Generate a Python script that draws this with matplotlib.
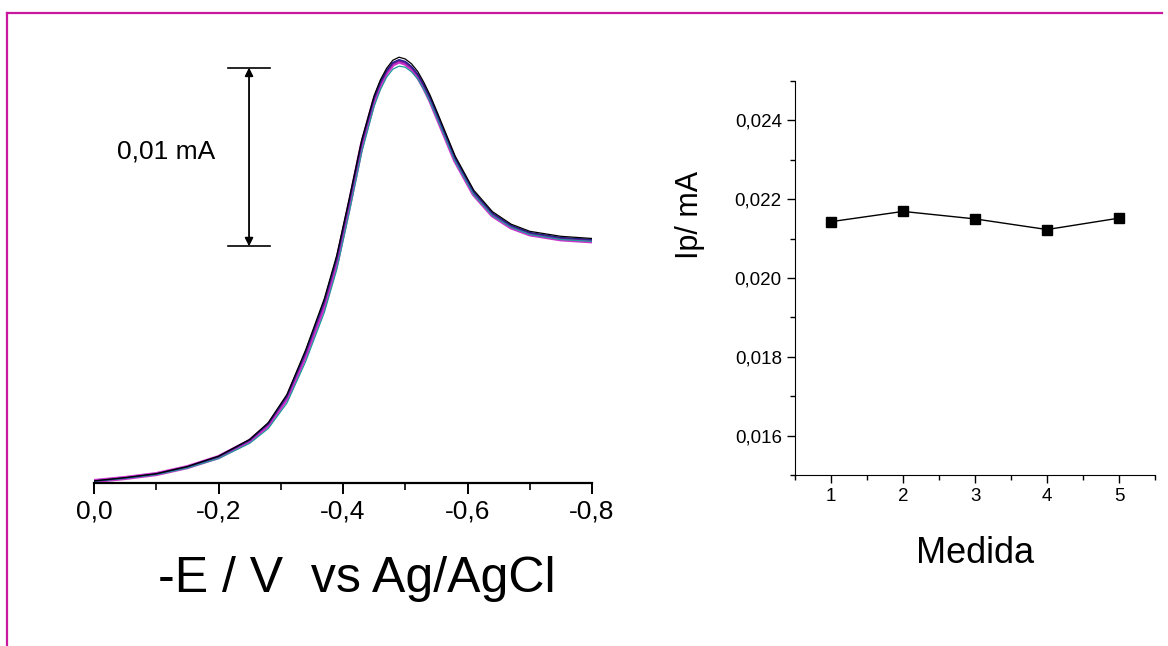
import matplotlib
matplotlib.use('Agg')
import matplotlib.pyplot as plt
from matplotlib.ticker import FuncFormatter, MultipleLocator
from matplotlib.lines import Line2D

plt.rcParams['font.family'] = ['Liberation Sans', 'DejaVu Sans']

# potential (V) and currents (mA) of the five voltammograms
potencial = [0.0, -0.05, -0.10, -0.15, -0.20, -0.25, -0.28, -0.31, -0.34, -0.37,
             -0.39, -0.41, -0.43, -0.45, -0.46, -0.47, -0.48, -0.49, -0.50, -0.51,
             -0.52, -0.53, -0.54, -0.55, -0.58, -0.61, -0.64, -0.67, -0.70, -0.75, -0.80]

i_ciano = [0.00010, 0.00026, 0.00047, 0.00084, 0.00137, 0.00222, 0.00305, 0.00448, 0.00680, 0.00955,
           0.01195, 0.01515, 0.01850, 0.02108, 0.02200, 0.02270, 0.02315, 0.02332, 0.02326, 0.02300,
           0.02260, 0.02200, 0.02130, 0.02050, 0.01800, 0.01612, 0.01495, 0.01430, 0.01390, 0.01362, 0.01352]
i_magenta = [0.00011, 0.00028, 0.00050, 0.00089, 0.00145, 0.00235, 0.00324, 0.00475, 0.00715, 0.00994,
             0.01235, 0.01553, 0.01888, 0.02140, 0.02229, 0.02296, 0.02341, 0.02358, 0.02346, 0.02318,
             0.02274, 0.02212, 0.02140, 0.02056, 0.01804, 0.01615, 0.01497, 0.01430, 0.01391, 0.01363, 0.01352]
i_morado = [0.00011, 0.00028, 0.00050, 0.00090, 0.00147, 0.00238, 0.00329, 0.00482, 0.00725, 0.01007,
            0.01248, 0.01566, 0.01898, 0.02148, 0.02235, 0.02301, 0.02346, 0.02362, 0.02351, 0.02323,
            0.02280, 0.02218, 0.02147, 0.02063, 0.01810, 0.01620, 0.01502, 0.01435, 0.01395, 0.01367, 0.01356]
i_azul = [0.00011, 0.00029, 0.00051, 0.00091, 0.00148, 0.00241, 0.00333, 0.00489, 0.00735, 0.01020,
          0.01262, 0.01580, 0.01908, 0.02155, 0.02242, 0.02307, 0.02352, 0.02368, 0.02358, 0.02330,
          0.02287, 0.02226, 0.02155, 0.02072, 0.01818, 0.01628, 0.01510, 0.01441, 0.01401, 0.01373, 0.01362]
i_negro = [0.00012, 0.00030, 0.00052, 0.00092, 0.00150, 0.00244, 0.00338, 0.00496, 0.00745, 0.01032,
           0.01275, 0.01592, 0.01920, 0.02168, 0.02255, 0.02320, 0.02365, 0.02382, 0.02372, 0.02345,
           0.02302, 0.02240, 0.02168, 0.02085, 0.01830, 0.01638, 0.01518, 0.01448, 0.01408, 0.01380, 0.01368]

# peak currents
medida = [1, 2, 3, 4, 5]
ip = [0.02143, 0.02169, 0.02150, 0.02123, 0.02152]

coma1 = FuncFormatter(lambda v, p: ('%.1f' % (v + 0.0)).replace('.', ',').replace('-0,0', '0,0'))
coma3 = FuncFormatter(lambda v, p: ('%.3f' % v).replace('.', ','))

fig = plt.figure(figsize=(11.68, 6.46), dpi=100)

# marco magenta
marco = '#c8189e'
fig.add_artist(Line2D([0.006, 0.006], [0.0, 0.98], transform=fig.transFigure, color=marco, lw=1.6))
fig.add_artist(Line2D([0.006, 0.995], [0.98, 0.98], transform=fig.transFigure, color=marco, lw=1.6))

# --- voltammograms ---
ax1 = fig.add_axes([0.0805, 0.2523, 0.4264, 0.7167])
ax1.plot(potencial, i_magenta, color='#cc33cc', lw=3.0)
ax1.plot(potencial, i_morado, color='#7a1f9a', lw=1.2)
ax1.plot(potencial, i_ciano, color='#1f9a9a', lw=0.9)
ax1.plot(potencial, i_azul, color='#20208a', lw=1.0)
ax1.plot(potencial, i_negro, color='black', lw=0.9)

ax1.set_xlim(0, -0.8)
ax1.set_ylim(0, 0.0259)
for s in ['top', 'right', 'left']:
    ax1.spines[s].set_visible(False)
ax1.spines['bottom'].set_linewidth(1.6)
ax1.set_yticks([])
ax1.xaxis.set_major_locator(MultipleLocator(0.2))
ax1.xaxis.set_minor_locator(MultipleLocator(0.1))
ax1.xaxis.set_major_formatter(coma1)
ax1.tick_params(axis='x', which='major', direction='out', length=8, width=1.4, labelsize=19, pad=4)
ax1.tick_params(axis='x', which='minor', direction='out', length=5, width=1.2)

# barra de escala
ax1.annotate('', xy=(-0.249, 0.02324), xytext=(-0.249, 0.01324),
             arrowprops=dict(arrowstyle='<|-|>', color='black', lw=1.3, mutation_scale=12,
                             shrinkA=0, shrinkB=0))
ax1.plot([-0.215, -0.283], [0.02324, 0.02324], color='black', lw=1.2)
ax1.plot([-0.215, -0.283], [0.01324, 0.01324], color='black', lw=1.2)
ax1.text(-0.116, 0.01855, '0,01 mA', fontsize=19, ha='center', va='center')

fig.text(357 / 1168, 1 - 579 / 646, '-E / V  vs Ag/AgCl', fontsize=36, ha='center', va='center')

# --- Ip vs medida ---
ax2 = fig.add_axes([0.6807, 0.2647, 0.3082, 0.6099])
ax2.plot(medida, ip, color='black', lw=1.0, marker='s', markersize=7)
ax2.set_xlim(0.5, 5.5)
ax2.set_ylim(0.015, 0.025)
for s in ['top', 'right']:
    ax2.spines[s].set_visible(False)
ax2.xaxis.set_major_locator(MultipleLocator(1))
ax2.xaxis.set_minor_locator(MultipleLocator(0.5))
ax2.yaxis.set_major_locator(MultipleLocator(0.002))
ax2.yaxis.set_minor_locator(MultipleLocator(0.001))
ax2.yaxis.set_major_formatter(coma3)
ax2.tick_params(which='major', direction='out', length=6, width=1.0, labelsize=13.5)
ax2.tick_params(which='minor', direction='out', length=3.5, width=1.0)
ax2.set_xlabel('Medida', fontsize=26, labelpad=22)
ax2.set_ylabel('Ip/ mA', fontsize=22)
ax2.yaxis.set_label_coords(-0.25, 0.66)

fig.savefig('out.png', dpi=100)
